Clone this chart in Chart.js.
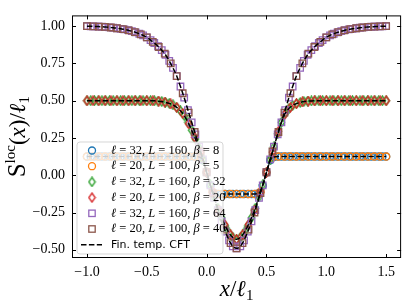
<!DOCTYPE html>
<html>
<head>
<meta charset="utf-8">
<script src="https://cdn.jsdelivr.net/npm/chart.js@4.4.1/dist/chart.umd.min.js"></script>
<style>
html, body { margin: 0; padding: 0; background: #fff; }
</style>
</head>
<body>
<canvas id="myChart" width="407" height="305"></canvas>
<script>
"use strict";

// marker grids: x = -1 ... 1.5 with step 1/l
let x32 = [];
for (let k = 0; k <= 80; k++) x32.push(-1 + k / 32);
let x20 = [];
for (let k = 0; k <= 50; k++) x20.push(-1 + k / 20);

// l = 32, L = 160 (beta = 8, 32, 64)
let low32 = [0.125, 0.125, 0.125, 0.125, 0.125, 0.125, 0.125, 0.125, 0.125, 0.125,
    0.125, 0.125, 0.125, 0.125, 0.125, 0.125, 0.125, 0.125, 0.125, 0.125,
    0.125, 0.125, 0.125, 0.125, 0.125, 0.125, 0.125, 0.125, 0.125, 0.125,
    0.123, 0.1, 0.018, -0.068, -0.12,
    -0.125, -0.125, -0.125, -0.125, -0.125, -0.125, -0.125, -0.125, -0.125, -0.125, -0.125,
    -0.12, -0.068, 0.018, 0.1, 0.123,
    0.125, 0.125, 0.125, 0.125, 0.125, 0.125, 0.125, 0.125, 0.125, 0.125,
    0.125, 0.125, 0.125, 0.125, 0.125, 0.125, 0.125, 0.125, 0.125, 0.125,
    0.125, 0.125, 0.125, 0.125, 0.125, 0.125, 0.125, 0.125, 0.125, 0.125];
let mid32 = [0.5, 0.5, 0.5, 0.5, 0.5, 0.5, 0.5, 0.5, 0.5, 0.5, 0.5, 0.5, 0.5, 0.5, 0.5, 0.5, 0.5, 0.5,
    0.499, 0.497, 0.494, 0.489, 0.482, 0.472, 0.455, 0.432, 0.4, 0.356, 0.302, 0.243, 0.182, 0.106,
    0.02, -0.065, -0.145, -0.222, -0.285, -0.34, -0.387, -0.417, -0.43, -0.417, -0.387, -0.34,
    -0.285, -0.222, -0.145, -0.065, 0.02, 0.105, 0.19, 0.278, 0.355, 0.414, 0.447, 0.468, 0.48,
    0.488, 0.494, 0.497, 0.498, 0.499,
    0.5, 0.5, 0.5, 0.5, 0.5, 0.5, 0.5, 0.5, 0.5, 0.5, 0.5, 0.5, 0.5, 0.5, 0.5, 0.5, 0.5, 0.5, 0.5];
let high32 = [1.0, 0.999, 0.998, 0.997, 0.996, 0.994, 0.992, 0.989, 0.986, 0.982, 0.978, 0.973,
    0.966, 0.958, 0.949, 0.938, 0.925, 0.906, 0.887, 0.865, 0.839, 0.808, 0.767, 0.72, 0.665,
    0.595, 0.52, 0.437, 0.355, 0.274, 0.192, 0.107, 0.02, -0.068, -0.152, -0.234, -0.31, -0.378,
    -0.437, -0.477, -0.49, -0.477, -0.437, -0.378, -0.31, -0.234, -0.152, -0.068, 0.02, 0.107,
    0.192, 0.274, 0.355, 0.437, 0.52, 0.595, 0.665, 0.72, 0.767, 0.808, 0.839, 0.865, 0.887,
    0.906, 0.925, 0.938, 0.949, 0.958, 0.966, 0.973, 0.978, 0.982, 0.986, 0.989, 0.992, 0.994,
    0.996, 0.997, 0.998, 0.999, 1.0];

// l = 20, L = 100 (beta = 5, 20, 40)
let low20 = [0.125, 0.125, 0.125, 0.125, 0.125, 0.125, 0.125, 0.125, 0.125, 0.125,
    0.125, 0.125, 0.125, 0.125, 0.125, 0.125, 0.125, 0.125, 0.125,
    0.12, 0.018, -0.11, -0.125, -0.125, -0.125, -0.125, -0.125, -0.125, -0.125, -0.11, 0.018, 0.12,
    0.125, 0.125, 0.125, 0.125, 0.125, 0.125, 0.125, 0.125, 0.125, 0.125,
    0.125, 0.125, 0.125, 0.125, 0.125, 0.125, 0.125, 0.125, 0.125];
let mid20 = [0.5, 0.5, 0.5, 0.5, 0.5, 0.5, 0.5, 0.5, 0.5, 0.5, 0.5,
    0.499, 0.497, 0.49, 0.478, 0.455, 0.415, 0.345, 0.255, 0.155, 0.02, -0.115, -0.235, -0.33,
    -0.4, -0.43, -0.4, -0.33, -0.235, -0.115, 0.02, 0.155, 0.295, 0.405, 0.455, 0.48, 0.492,
    0.497, 0.499,
    0.5, 0.5, 0.5, 0.5, 0.5, 0.5, 0.5, 0.5, 0.5, 0.5, 0.5, 0.5];
let high20 = [1.0, 0.999, 0.997, 0.995, 0.991, 0.986, 0.98, 0.972, 0.96, 0.945, 0.925, 0.895,
    0.86, 0.815, 0.75, 0.665, 0.55, 0.42, 0.29, 0.16, 0.02, -0.12, -0.25, -0.365, -0.455, -0.49,
    -0.455, -0.365, -0.25, -0.12, 0.02, 0.16, 0.29, 0.42, 0.55, 0.665, 0.75, 0.815, 0.86, 0.895,
    0.925, 0.945, 0.96, 0.972, 0.98, 0.986, 0.991, 0.995, 0.997, 0.999, 1.0];

let xTicks = [-1.0, -0.5, 0.0, 0.5, 1.0, 1.5];
let yTicks = [-0.5, -0.25, 0.0, 0.25, 0.5, 0.75, 1.0];

let legendRows = [
    { l: '32', L: '160', b: '8', color: '#1f77b4', marker: 'circle' },
    { l: '20', L: '100', b: '5', color: '#ff7f0e', marker: 'circle' },
    { l: '32', L: '160', b: '32', color: '#2ca02c', marker: 'diamond' },
    { l: '20', L: '100', b: '20', color: '#d62728', marker: 'diamond' },
    { l: '32', L: '160', b: '64', color: '#9467bd', marker: 'rect' },
    { l: '20', L: '100', b: '40', color: '#8c564b', marker: 'rect' }
];

const serif = '"Liberation Serif", "DejaVu Serif", serif';

function thinDiamond(color) {
    let c = document.createElement('canvas');
    c.width = 9;
    c.height = 11;
    let g = c.getContext('2d');
    g.strokeStyle = color;
    g.lineWidth = 1.3;
    g.beginPath();
    g.moveTo(4.5, 1);
    g.lineTo(7.7, 5.5);
    g.lineTo(4.5, 10);
    g.lineTo(1.3, 5.5);
    g.closePath();
    g.stroke();
    return c;
}

function markerStyle(row) {
    if (row.marker === 'diamond') return thinDiamond(row.color);
    return row.marker;
}

function markerSet(row, xs, ys, order) {
    return {
        label: row.l,
        data: xs.map((x, i) => ({ x: x, y: ys[i] })),
        showLine: false,
        order: order,
        pointStyle: markerStyle(row),
        pointRadius: row.marker === 'rect' ? 4.6 : 3.6,
        pointBorderWidth: 1.3,
        pointBorderColor: row.color,
        pointBackgroundColor: 'rgba(0,0,0,0)',
        borderColor: row.color,
        backgroundColor: 'rgba(0,0,0,0)'
    };
}

function cftLine(ys) {
    return {
        label: 'cft',
        data: x32.map((x, i) => ({ x: x, y: ys[i] })),
        showLine: true,
        order: 0,
        borderColor: '#000',
        borderWidth: 1.5,
        borderDash: [5.5, 2.4],
        pointRadius: 0,
        cubicInterpolationMode: 'monotone'
    };
}

// pieces: [text, italic, dy, size]
function drawPieces(ctx, pieces, x, y, align) {
    let total = 0;
    for (let p of pieces) {
        ctx.font = (p[1] ? 'italic ' : '') + p[3] + 'px ' + serif;
        total += ctx.measureText(p[0]).width;
    }
    let cx = align === 'center' ? x - total / 2 : x;
    for (let p of pieces) {
        ctx.font = (p[1] ? 'italic ' : '') + p[3] + 'px ' + serif;
        ctx.fillText(p[0], cx, y + p[2]);
        cx += ctx.measureText(p[0]).width;
    }
}

function drawLegend(ctx) {
    let bx = 77, by = 142, bw = 146, bh = 112, r = 3;
    ctx.save();
    ctx.beginPath();
    ctx.moveTo(bx + r, by);
    ctx.arcTo(bx + bw, by, bx + bw, by + bh, r);
    ctx.arcTo(bx + bw, by + bh, bx, by + bh, r);
    ctx.arcTo(bx, by + bh, bx, by, r);
    ctx.arcTo(bx, by, bx + bw, by, r);
    ctx.closePath();
    ctx.fillStyle = 'rgba(255,255,255,0.8)';
    ctx.fill();
    ctx.strokeStyle = 'rgba(204,204,204,0.8)';
    ctx.lineWidth = 1;
    ctx.stroke();

    ctx.textBaseline = 'middle';
    ctx.fillStyle = '#000';
    let step = 15.7;
    let fs = 12.5;
    legendRows.forEach((row, i) => {
        let y = 150.5 + i * step;
        ctx.strokeStyle = row.color;
        ctx.lineWidth = 1.3;
        if (row.marker === 'circle') {
            ctx.beginPath();
            ctx.arc(92, y, 3.5, 0, Math.PI * 2);
            ctx.stroke();
        } else if (row.marker === 'rect') {
            ctx.strokeRect(88.8, y - 3.2, 6.4, 6.4);
        } else {
            let img = thinDiamond(row.color);
            ctx.drawImage(img, 92 - 4.5, y - 5.5);
        }
        ctx.fillStyle = '#000';
        drawPieces(ctx, [
            ['\u2113', true, 0, fs], [' = ' + row.l + ', ', false, 0, fs],
            ['L', true, 0, fs], [' = ' + row.L + ', ', false, 0, fs],
            ['\u03b2', true, 0, fs], [' = ' + row.b, false, 0, fs]
        ], 111, y, 'left');
    });
    let y = 150.5 + 6 * step;
    ctx.strokeStyle = '#000';
    ctx.lineWidth = 1.5;
    ctx.setLineDash([5.5, 2.4]);
    ctx.beginPath();
    ctx.moveTo(81, y);
    ctx.lineTo(102, y);
    ctx.stroke();
    ctx.setLineDash([]);
    ctx.font = '11px "DejaVu Sans", sans-serif';
    ctx.fillText('Fin. temp. CFT', 111, y);
    ctx.restore();
}

function drawFrame(chart) {
    let ctx = chart.ctx;
    let a = chart.chartArea;
    let xs = chart.scales.x, ys = chart.scales.y;
    ctx.save();
    ctx.strokeStyle = '#000';
    ctx.lineWidth = 1;
    ctx.strokeRect(a.left + 0.5, a.top + 0.5, a.right - a.left - 1, a.bottom - a.top - 1);
    ctx.beginPath();
    for (let v of xTicks) {
        let px = Math.round(xs.getPixelForValue(v)) + 0.5;
        ctx.moveTo(px, a.bottom);
        ctx.lineTo(px, a.bottom - 4);
        ctx.moveTo(px, a.top);
        ctx.lineTo(px, a.top + 4);
    }
    for (let v of yTicks) {
        let py = Math.round(ys.getPixelForValue(v)) + 0.5;
        ctx.moveTo(a.left, py);
        ctx.lineTo(a.left + 4, py);
        ctx.moveTo(a.right, py);
        ctx.lineTo(a.right - 4, py);
    }
    ctx.stroke();
    ctx.restore();
}

function drawTitles(chart) {
    let ctx = chart.ctx;
    let a = chart.chartArea;
    ctx.save();
    ctx.fillStyle = '#000';
    ctx.textBaseline = 'alphabetic';
    drawPieces(ctx, [
        ['x', true, 0, 23], ['/', false, 0, 23], ['\u2113', true, 0, 23], ['1', false, 4, 15]
    ], (a.left + a.right) / 2, 296, 'center');
    ctx.translate(25, (a.top + a.bottom) / 2);
    ctx.rotate(-Math.PI / 2);
    drawPieces(ctx, [
        ['S', false, 0, 25], ['loc', false, -10, 15], ['(', false, 0, 23], ['x', true, 0, 23],
        [')', false, 0, 23], ['/', false, 0, 23], ['\u2113', true, 0, 23], ['1', false, 4, 15]
    ], 0, 0, 'center');
    ctx.restore();
}

const decor = {
    id: 'decor',
    afterDatasetsDraw(chart) {
        drawLegend(chart.ctx);
        drawFrame(chart);
        drawTitles(chart);
    }
};

function minusLabel(v, digits) {
    return (v < 0 ? '\u2212' : '') + Math.abs(v).toFixed(digits);
}

let datasets = [
    cftLine(low32), cftLine(mid32), cftLine(high32),
    markerSet(legendRows[5], x20, high20, 1),
    markerSet(legendRows[4], x32, high32, 2),
    markerSet(legendRows[3], x20, mid20, 3),
    markerSet(legendRows[2], x32, mid32, 4),
    markerSet(legendRows[1], x20, low20, 5),
    markerSet(legendRows[0], x32, low32, 6)
];

let ctx = document.getElementById('myChart').getContext('2d');
new Chart(ctx, {
    type: 'scatter',
    data: { datasets: datasets },
    plugins: [decor],
    options: {
        responsive: false,
        animation: false,
        devicePixelRatio: 1,
        layout: { padding: { top: 3, right: 3, left: 0, bottom: 0 } },
        plugins: { legend: { display: false }, tooltip: { enabled: false } },
        scales: {
            x: {
                type: 'linear',
                min: -1.125,
                max: 1.625,
                grid: { display: false, drawTicks: false },
                border: { display: false },
                afterBuildTicks: s => { s.ticks = xTicks.map(v => ({ value: v })); },
                afterFit: s => { s.height = 47; },
                ticks: {
                    padding: 6,
                    color: '#000',
                    font: { family: serif, size: 14 },
                    callback: v => minusLabel(v, 1)
                }
            },
            y: {
                type: 'linear',
                min: -0.555,
                max: 1.072,
                grid: { display: false, drawTicks: false },
                border: { display: false },
                afterBuildTicks: s => { s.ticks = yTicks.map(v => ({ value: v })); },
                afterFit: s => { s.width = 72; },
                ticks: {
                    padding: 7,
                    color: '#000',
                    font: { family: serif, size: 14 },
                    callback: v => minusLabel(v, 2)
                }
            }
        }
    }
});
</script>
</body>
</html>
